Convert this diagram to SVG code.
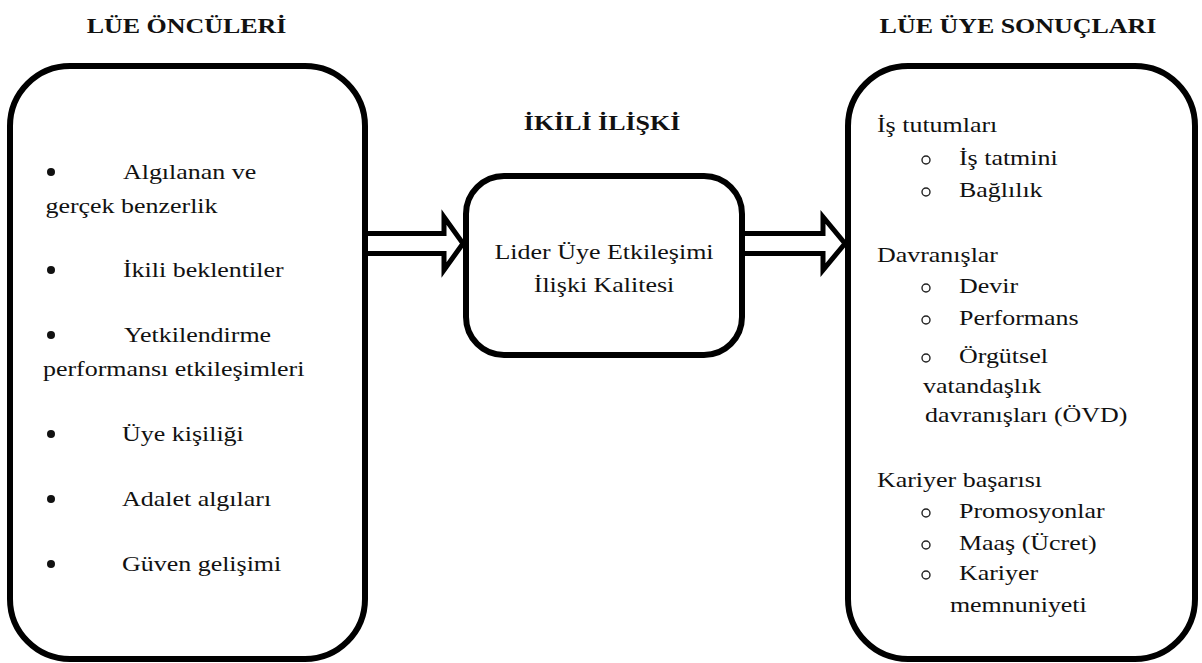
<svg xmlns="http://www.w3.org/2000/svg" width="1202" height="663" viewBox="0 0 1202 663" font-family="'Liberation Serif', 'DejaVu Serif', 'Times New Roman', serif">
<style>
.box{fill:none;stroke:#000;stroke-width:6}
.arrow{fill:#fff;stroke:#000;stroke-width:5;stroke-linejoin:miter}
.t{font-family:'Liberation Serif','DejaVu Serif','Times New Roman',serif;font-size:22px;fill:#111}
.title{font-weight:bold;text-anchor:middle}
.mid{text-anchor:middle}
.dot{fill:#111}
.ring{fill:none;stroke:#222;stroke-width:1.4}
</style>
<rect width="1202" height="663" fill="#fff"/>
<g id="connectors">
<path class="arrow" d="M366,233.5 H444 V217 L463,243.5 L444,270 V253.5 H366"/>
<path class="arrow" d="M742,233.5 H823 V217 L845,243.5 L823,270 V253.5 H742"/>
</g>
<g id="titles" font-family="'Liberation Serif', 'DejaVu Serif', serif">
<g transform="scale(1.18 1)">
<text class="t title" x="158.1" y="33">LÜE ÖNCÜLERİ</text>
<text class="t title" x="510.2" y="130">İKİLİ İLİŞKİ</text>
<text class="t title" x="862.7" y="33">LÜE ÜYE SONUÇLARI</text>
</g>
</g>
<g id="node-oncul" font-family="'Liberation Serif', 'DejaVu Serif', serif">
<rect class="box" x="10" y="66" width="355" height="593" rx="60"/>
<circle class="dot" cx="51" cy="172" r="4"/>
<circle class="dot" cx="51" cy="270" r="4"/>
<circle class="dot" cx="51" cy="335" r="4"/>
<circle class="dot" cx="51" cy="434" r="4"/>
<circle class="dot" cx="51" cy="499" r="4"/>
<circle class="dot" cx="51" cy="564" r="4"/>
<g transform="scale(1.18 1)">
<text class="t" x="104.2" y="179">Algılanan ve</text>
<text class="t" x="38.5" y="213">gerçek benzerlik</text>
<text class="t" x="104.2" y="277">İkili beklentiler</text>
<text class="t" x="105" y="342">Yetkilendirme</text>
<text class="t" x="36.4" y="376">performansı etkileşimleri</text>
<text class="t" x="103.4" y="441">Üye kişiliği</text>
<text class="t" x="103.4" y="506">Adalet algıları</text>
<text class="t" x="103.4" y="571">Güven gelişimi</text>
</g>
</g>
<g id="node-ikili" font-family="'Liberation Serif', 'DejaVu Serif', serif">
<rect class="box" x="466" y="176" width="276" height="179" rx="38"/>
<g transform="scale(1.18 1)">
<text class="t mid" x="511.9" y="259">Lider Üye Etkileşimi</text>
<text class="t mid" x="511.9" y="292">İlişki Kalitesi</text>
</g>
</g>
<g id="node-sonuc" font-family="'Liberation Serif', 'DejaVu Serif', serif">
<rect class="box" x="848" y="66" width="347" height="593" rx="60"/>
<circle class="ring" cx="926" cy="160" r="4"/>
<circle class="ring" cx="926" cy="192" r="4"/>
<circle class="ring" cx="926" cy="288" r="4"/>
<circle class="ring" cx="926" cy="320" r="4"/>
<circle class="ring" cx="926" cy="358" r="4"/>
<circle class="ring" cx="926" cy="513" r="4"/>
<circle class="ring" cx="926" cy="545" r="4"/>
<circle class="ring" cx="926" cy="575" r="4"/>
<g transform="scale(1.18 1)">
<text class="t" x="743.2" y="132">İş tutumları</text>
<text class="t" x="812.7" y="165">İş tatmini</text>
<text class="t" x="812.7" y="197">Bağlılık</text>
<text class="t" x="743.2" y="262">Davranışlar</text>
<text class="t" x="812.7" y="293">Devir</text>
<text class="t" x="812.7" y="325">Performans</text>
<text class="t" x="812.7" y="363">Örgütsel</text>
<text class="t" x="782.2" y="393">vatandaşlık</text>
<text class="t" x="783.9" y="422">davranışları (ÖVD)</text>
<text class="t" x="743.2" y="487">Kariyer başarısı</text>
<text class="t" x="812.7" y="518">Promosyonlar</text>
<text class="t" x="812.7" y="550">Maaş (Ücret)</text>
<text class="t" x="812.7" y="580">Kariyer</text>
<text class="t" x="805" y="612">memnuniyeti</text>
</g>
</g>
</svg>
